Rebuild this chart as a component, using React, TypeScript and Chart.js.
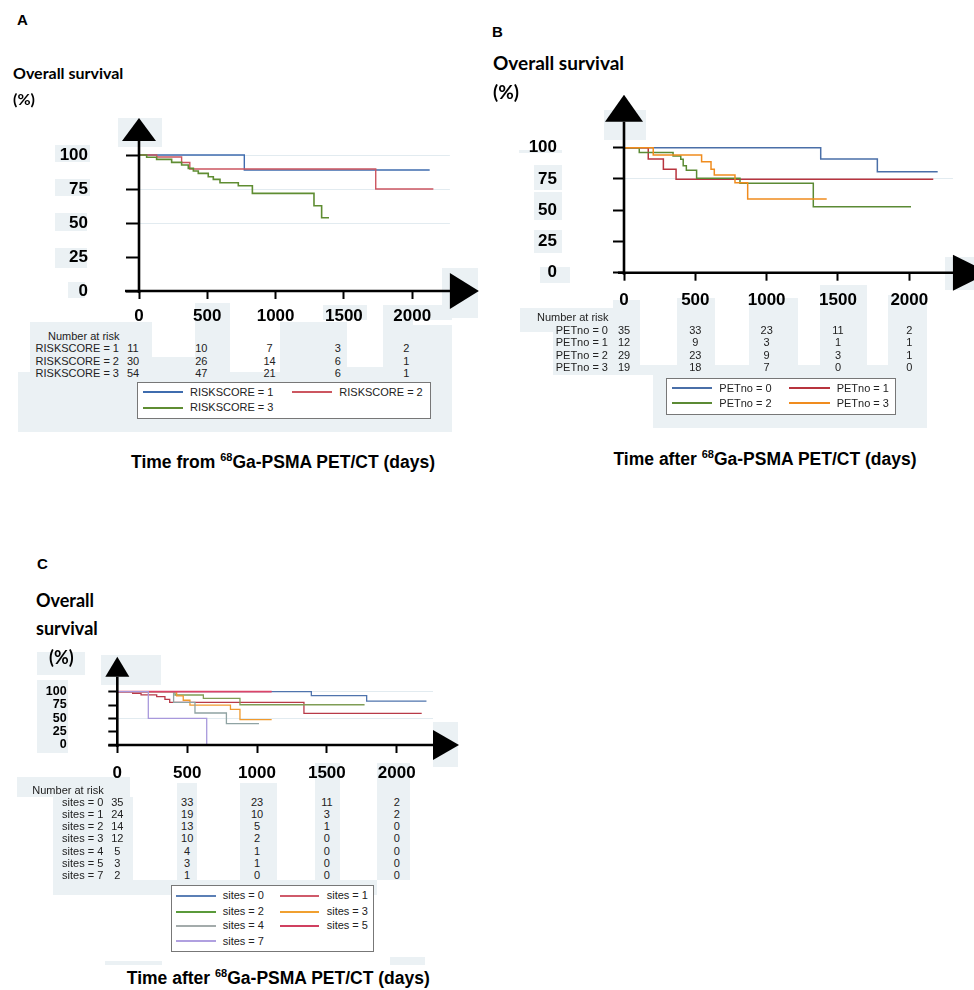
import React, { useEffect, useRef } from "react";
import { Chart, registerables } from "chart.js";

Chart.register(...registerables);

const SANS = '"Liberation Sans", Arial, sans-serif';
const HEAD = 'Lato, "Open Sans", sans-serif';

// ---------- shared ticks ----------
const X_TICKS = [0, 500, 1000, 1500, 2000];
const Y_TICKS = [0, 25, 50, 75, 100];

// ---------- Panel A ----------
const A_GROUPS = ["RISKSCORE = 1", "RISKSCORE = 2", "RISKSCORE = 3"];
const A_COLORS = ["#3f6cae", "#cc5660", "#5f8d32"];
const A_RS1_T = [0, 771, 2128];
const A_RS1_S = [100, 89, 89];
const A_RS2_T = [0, 130, 312, 372, 1733, 2155];
const A_RS2_S = [100, 98.5, 94.5, 89.7, 75, 75];
const A_RS3_T = [0, 56, 129, 239, 312, 361, 398, 434, 507, 544, 593, 727, 830, 1281, 1337, 1391];
const A_RS3_S = [100, 98.3, 96.8, 94.6, 92.6, 90.2, 88.2, 86.5, 84, 82.1, 79.6, 77.4, 71.8, 62.7, 53.9, 53.9];
const A_RISK = [
  [11, 10, 7, 3, 2],
  [30, 26, 14, 6, 1],
  [54, 47, 21, 6, 1],
];

// ---------- Panel B ----------
const B_GROUPS = ["PETno = 0", "PETno = 1", "PETno = 2", "PETno = 3"];
const B_COLORS = ["#4a6fa8", "#b8343e", "#5b8a34", "#f08c1e"];
const B_P0_T = [0, 1379, 1776, 2199];
const B_P0_S = [100, 91, 80.8, 80.8];
const B_P1_T = [0, 170, 276, 365, 2168];
const B_P1_S = [100, 91, 82.7, 74.7, 74.7];
const B_P2_T = [0, 107, 344, 398, 415, 437, 509, 813, 1327, 2012];
const B_P2_S = [100, 96.2, 93.4, 90.7, 85.6, 82, 75.5, 71.5, 52.8, 52.8];
const B_P3_T = [0, 205, 544, 610, 633, 778, 867, 1421];
const B_P3_S = [100, 94.2, 88.8, 82.7, 78.2, 72, 59, 59];
const B_RISK = [
  [35, 33, 23, 11, 2],
  [12, 9, 3, 1, 1],
  [29, 23, 9, 3, 1],
  [19, 18, 7, 0, 0],
];

// ---------- Panel C ----------
const C_GROUPS = ["sites = 0", "sites = 1", "sites = 2", "sites = 3", "sites = 4", "sites = 5", "sites = 7"];
const C_COLORS = ["#4f74ad", "#b83a48", "#7f9d55", "#f09a2e", "#8fa3a3", "#dc4468", "#a899dc"];
const C_LEGEND_COLORS = ["#5b7fb5", "#cf5a6a", "#5a9a3a", "#f0a030", "#a3abab", "#d04060", "#b0a0e0"];
const C_S0_T = [0, 1389, 1785, 2213];
const C_S0_S = [100, 92.5, 82.5, 82.5];
const C_S1_T = [0, 110, 170, 282, 341, 375, 1336, 2179];
const C_S1_S = [100, 97, 94, 90.6, 85.7, 80, 59.4, 59.4];
const C_S2_T = [0, 413, 616, 878, 1770];
const C_S2_S = [100, 93.8, 87.5, 75.5, 75.5];
const C_S3_T = [0, 425, 472, 520, 810, 878, 1105];
const C_S3_S = [100, 92, 84, 75, 66.7, 47.6, 47.6];
const C_S4_T = [0, 403, 556, 781, 1014];
const C_S4_S = [100, 80, 60, 40, 40];
const C_S5_T = [0, 1105];
const C_S5_S = [100, 100];
const C_S7_T = [0, 222, 640];
const C_S7_S = [100, 50, 0];
const C_RISK = [
  [35, 33, 23, 11, 2],
  [24, 19, 10, 3, 2],
  [14, 13, 5, 1, 0],
  [12, 10, 2, 0, 0],
  [5, 4, 1, 0, 0],
  [3, 3, 1, 0, 0],
  [2, 1, 0, 0, 0],
];

type Series = { label: string; t: number[]; s: number[]; color: string; width?: number };

const A_SERIES: Series[] = [
  { label: A_GROUPS[0], t: A_RS1_T, s: A_RS1_S, color: A_COLORS[0] },
  { label: A_GROUPS[1], t: A_RS2_T, s: A_RS2_S, color: A_COLORS[1] },
  { label: A_GROUPS[2], t: A_RS3_T, s: A_RS3_S, color: A_COLORS[2], width: 1.6 },
];
const B_SERIES: Series[] = [
  { label: B_GROUPS[0], t: B_P0_T, s: B_P0_S, color: B_COLORS[0] },
  { label: B_GROUPS[1], t: B_P1_T, s: B_P1_S, color: B_COLORS[1] },
  { label: B_GROUPS[2], t: B_P2_T, s: B_P2_S, color: B_COLORS[2] },
  { label: B_GROUPS[3], t: B_P3_T, s: B_P3_S, color: B_COLORS[3] },
];
const C_SERIES: Series[] = [
  { label: C_GROUPS[0], t: C_S0_T, s: C_S0_S, color: C_COLORS[0] },
  { label: C_GROUPS[1], t: C_S1_T, s: C_S1_S, color: C_COLORS[1] },
  { label: C_GROUPS[2], t: C_S2_T, s: C_S2_S, color: C_COLORS[2] },
  { label: C_GROUPS[3], t: C_S3_T, s: C_S3_S, color: C_COLORS[3] },
  { label: C_GROUPS[4], t: C_S4_T, s: C_S4_S, color: C_COLORS[4] },
  { label: C_GROUPS[5], t: C_S5_T, s: C_S5_S, color: C_COLORS[5], width: 1.8 },
  { label: C_GROUPS[6], t: C_S7_T, s: C_S7_S, color: C_COLORS[6] },
];

// ---------- geometry (layout, not data) ----------
type Geo = {
  cl: number; ct: number; cw: number; ch: number;
  x0: number; xpd: number; xMax: number;
  y0: number; ypp: number;
  yTick: number; yPad: number; yFont: number;
  xTick: number; xPad: number; xFont: number;
  yGap: number; yLen: number; yHw: number;
  xLen: number; xHh: number; yExt: number; xExt: number;
  grid: number[]; lw: number;
};

const A_GEO: Geo = {
  cl: 0, ct: 100, cw: 480, ch: 230,
  x0: 139, xpd: 0.1366, xMax: 2276, y0: 291, ypp: 1.36,
  yTick: 13, yPad: 38, yFont: 17, xTick: 8, xPad: 7, xFont: 17,
  yGap: 14, yLen: 23, yHw: 17, xLen: 29, xHh: 18, yExt: 2, xExt: 14,
  grid: [50, 75, 100], lw: 1.4,
};
const B_GEO: Geo = {
  cl: 480, ct: 80, cw: 494, ch: 240,
  x0: 624, xpd: 0.14265, xMax: 2306, y0: 272.7, ypp: 1.25,
  yTick: 11, yPad: 56, yFont: 17, xTick: 8, xPad: 9, xFont: 17,
  yGap: 26, yLen: 27, yHw: 19, xLen: 36, xHh: 18, yExt: 2, xExt: 6,
  grid: [75], lw: 1.5,
};
const C_GEO: Geo = {
  cl: 0, ct: 640, cw: 480, ch: 150,
  x0: 117.3, xpd: 0.1397, xMax: 2260, y0: 745, ypp: 0.533,
  yTick: 9, yPad: 41.6, yFont: 12.5, xTick: 8, xPad: 10, xFont: 17,
  yGap: 15, yLen: 20, yHw: 12, xLen: 26, xHh: 15, yExt: 2, xExt: 9,
  grid: [50, 100], lw: 1.3,
};

const px = (g: Geo, d: number) => g.x0 + d * g.xpd;

const axesPlugin = {
  id: "kmAxes",
  afterDraw(chart: any, _a: any, o: any) {
    const { ctx, chartArea } = chart;
    const ax = chart.scales.x.getPixelForValue(0);
    const ay = chart.scales.y.getPixelForValue(0);
    const top = chart.scales.y.getPixelForValue(100);
    const right = chartArea.right;
    ctx.save();
    ctx.strokeStyle = "#000";
    ctx.fillStyle = "#000";
    ctx.lineWidth = 2.6;
    const yBase = top - o.yGap;
    ctx.beginPath();
    ctx.moveTo(ax, ay + o.yExt);
    ctx.lineTo(ax, yBase);
    ctx.stroke();
    ctx.beginPath();
    ctx.moveTo(ax - o.yHw, yBase);
    ctx.lineTo(ax + o.yHw, yBase);
    ctx.lineTo(ax, yBase - o.yLen);
    ctx.closePath();
    ctx.fill();
    ctx.beginPath();
    ctx.moveTo(ax - o.xExt, ay);
    ctx.lineTo(right + 1, ay);
    ctx.stroke();
    ctx.beginPath();
    ctx.moveTo(right, ay - o.xHh);
    ctx.lineTo(right, ay + o.xHh);
    ctx.lineTo(right + o.xLen, ay);
    ctx.closePath();
    ctx.fill();
    ctx.restore();
  },
};

function KM({ g, series }: { g: Geo; series: Series[] }) {
  const ref = useRef<HTMLCanvasElement>(null);
  useEffect(() => {
    const c = ref.current;
    if (!c) return;
    const top = g.y0 - 100 * g.ypp;
    const right = g.x0 + g.xMax * g.xpd;
    const padTop = top - g.ct;
    const padRight = g.cl + g.cw - right;
    const yW = g.x0 - g.cl;
    const xH = g.ct + g.ch - g.y0;
    const n = series.length;
    const chart = new Chart(c, {
      type: "line",
      data: {
        datasets: series.map((sr, i) => ({
          label: sr.label,
          data: sr.t.map((t, j) => ({ x: t, y: sr.s[j] })),
          borderColor: sr.color,
          backgroundColor: sr.color,
          borderWidth: sr.width ?? g.lw,
          stepped: "before" as const,
          pointRadius: 0,
          fill: false,
          clip: 8,
          order: n - i,
        })),
      },
      options: {
        animation: false,
        responsive: false,
        devicePixelRatio: 1,
        layout: { padding: { left: 0, top: padTop, right: padRight, bottom: 0 } },
        plugins: {
          legend: { display: false },
          tooltip: { enabled: false },
          kmAxes: g,
        } as any,
        scales: {
          x: {
            type: "linear",
            min: 0,
            max: g.xMax,
            afterBuildTicks: (s: any) => {
              s.ticks = X_TICKS.map((v) => ({ value: v }));
            },
            afterFit: (s: any) => {
              s.height = xH;
              s.paddingLeft = 0;
              s.paddingRight = 0;
              s.paddingTop = 0;
              s.paddingBottom = 0;
            },
            ticks: {
              callback: (v: any) => String(v),
              font: { family: SANS, size: g.xFont, weight: "bold" },
              color: "#000",
              padding: g.xPad,
              maxRotation: 0,
              autoSkip: false,
            },
            grid: {
              drawOnChartArea: false,
              tickLength: g.xTick,
              tickWidth: 2,
              tickColor: "#000",
            },
            border: { display: false },
          },
          y: {
            type: "linear",
            min: 0,
            max: 100,
            afterBuildTicks: (s: any) => {
              s.ticks = Y_TICKS.map((v) => ({ value: v }));
            },
            afterFit: (s: any) => {
              s.width = yW;
              s.paddingTop = 0;
              s.paddingBottom = 0;
              s.paddingLeft = 0;
              s.paddingRight = 0;
            },
            ticks: {
              callback: (v: any) => String(v),
              font: { family: SANS, size: g.yFont, weight: "bold" },
              color: "#000",
              padding: g.yPad,
              autoSkip: false,
            },
            grid: {
              color: (ctx: any) =>
                ctx.tick && g.grid.includes(ctx.tick.value) ? "#e2ebf0" : "rgba(0,0,0,0)",
              lineWidth: 1,
              tickLength: g.yTick,
              tickWidth: 2,
              tickColor: "#000",
            },
            border: { display: false },
          },
        },
      } as any,
      plugins: [axesPlugin as any],
    });
    return () => chart.destroy();
  }, []);
  return (
    <canvas
      ref={ref}
      width={g.cw}
      height={g.ch}
      style={{ position: "absolute", left: g.cl, top: g.ct, width: g.cw, height: g.ch }}
    />
  );
}

function T({
  x, y, s, w = 400, f = SANS, a = "left", c = "#000", children,
}: {
  x: number; y: number; s: number; w?: number; f?: string; a?: string; c?: string; children: any;
}) {
  const tx = a === "left" ? "0" : a === "center" ? "-50%" : "-100%";
  return (
    <div
      style={{
        position: "absolute",
        left: x,
        top: y - s / 2,
        fontSize: s,
        lineHeight: `${s}px`,
        fontFamily: f,
        fontWeight: w,
        color: c,
        whiteSpace: "nowrap",
        transform: `translateX(${tx})`,
      }}
    >
      {children}
    </div>
  );
}

function AxisTitle({ x, y, word }: { x: number; y: number; word: string }) {
  return (
    <div
      style={{
        position: "absolute",
        left: x,
        top: y - 9,
        transform: "translateX(-50%)",
        fontFamily: SANS,
        fontWeight: 700,
        fontSize: 17.5,
        lineHeight: "18px",
        whiteSpace: "nowrap",
        color: "#000",
      }}
    >
      {`Time ${word} `}
      <span style={{ fontSize: 11, position: "relative", top: -7 }}>68</span>
      Ga-PSMA PET/CT (days)
    </div>
  );
}

function RiskTable({
  g, rows, labels, labelRight, titleX, titleY, rowY, off,
}: {
  g: Geo; rows: number[][]; labels: string[]; labelRight: number; titleX: number; titleY: number; rowY: number[]; off: number;
}) {
  return (
    <>
      <T x={titleX} y={titleY} s={11} c="#222">Number at risk</T>
      {labels.map((lb, i) => (
        <React.Fragment key={lb}>
          <T x={labelRight} y={rowY[i]} s={11} a="right" c="#222">{lb}</T>
          {rows[i].map((v, j) => (
            <T key={j} x={px(g, X_TICKS[j]) + off} y={rowY[i]} s={11} a="center" c="#222">{String(v)}</T>
          ))}
        </React.Fragment>
      ))}
    </>
  );
}

function Legend({
  box, rows, cols, items,
}: {
  box: number[]; rows: number[]; cols: number[][]; items: { label: string; color: string; width?: number }[];
}) {
  return (
    <>
      <div
        style={{
          position: "absolute",
          left: box[0],
          top: box[1],
          width: box[2],
          height: box[3],
          border: "1px solid #777",
          background: "#fff",
          boxSizing: "border-box",
        }}
      />
      {items.map((it, i) => {
        const r = Math.floor(i / 2);
        const c = cols[i % 2];
        const lw = it.width ?? 1.6;
        return (
          <React.Fragment key={it.label}>
            <div
              style={{
                position: "absolute",
                left: c[0],
                top: Math.round(rows[r]) - 1,
                width: c[1] - c[0],
                height: lw,
                background: it.color,
              }}
            />
            <T x={c[2]} y={rows[r]} s={11} c="#222">{it.label}</T>
          </React.Fragment>
        );
      })}
    </>
  );
}

const PATCH = "#ebf1f4";
const PATCHES: number[][] = [
  // A
  [55, 145, 35, 17], [55, 179, 35, 17], [55, 213, 32, 18], [55, 248, 32, 20], [68, 282, 17, 16],
  [118, 118, 44, 29], [442, 268, 36, 50], [195, 303, 35, 17], [323, 305, 44, 15], [390, 305, 62, 15],
  [30, 322, 122, 50], [152, 357, 43, 15], [195, 303, 35, 69], [280, 322, 67, 50], [347, 367, 36, 5],
  [383, 305, 30, 67], [413, 325, 39, 47], [18, 372, 434, 60],
  // B
  [519, 150, 43, 3], [534, 165, 28, 25], [534, 192, 28, 28], [534, 230, 28, 23], [540, 267, 30, 16],
  [604, 110, 42, 30], [945, 257, 29, 33],
  [613, 300, 27, 20], [677, 298, 38, 22], [749, 298, 49, 22], [820, 285, 47, 35], [888, 295, 39, 25],
  [520, 308, 120, 24], [553, 332, 87, 43], [677, 300, 38, 75], [749, 300, 49, 75], [820, 300, 47, 75],
  [888, 300, 39, 75], [640, 365, 287, 10], [653, 375, 274, 53],
  // C
  [37, 652, 48, 23], [37, 680, 31, 73], [101, 655, 60, 30], [433, 722, 25, 45],
  [17, 777, 113, 20], [53, 797, 80, 98], [177, 783, 20, 97], [240, 783, 37, 97], [315, 763, 25, 117],
  [377, 763, 33, 117], [53, 880, 324, 15], [105, 961, 57, 4], [390, 957, 35, 8],
];

export default function App() {
  return (
    <div
      style={{
        position: "absolute",
        left: 0,
        top: 0,
        width: 974,
        height: 990,
        overflow: "hidden",
        background: "#fff",
      }}
    >
      {PATCHES.map((p, i) => (
        <div
          key={i}
          style={{ position: "absolute", left: p[0], top: p[1], width: p[2], height: p[3], background: PATCH }}
        />
      ))}

      <KM g={A_GEO} series={A_SERIES} />
      <KM g={B_GEO} series={B_SERIES} />
      <KM g={C_GEO} series={C_SERIES} />

      {/* Panel A */}
      <T x={17} y={19} s={15} w={700}>A</T>
      <T x={13} y={73} s={16} w={700} f={HEAD}>Overall survival</T>
      <T x={13} y={98.5} s={16} w={700} f={HEAD}>(%)</T>
      <RiskTable
        g={A_GEO}
        rows={A_RISK}
        labels={A_GROUPS}
        labelRight={119}
        titleX={48}
        titleY={336}
        rowY={[348, 361, 373]}
        off={-6}
      />
      <Legend
        box={[137, 382, 294, 37]}
        rows={[392.3, 407.7]}
        cols={[[142.7, 182.7, 190], [291.7, 331.7, 339.3]]}
        items={A_SERIES.map((s) => ({ label: s.label, color: s.color }))}
      />
      <AxisTitle x={283} y={462} word="from" />

      {/* Panel B */}
      <T x={492} y={31} s={15} w={700}>B</T>
      <T x={493} y={62} s={19} w={700} f={HEAD}>Overall survival</T>
      <T x={493} y={91.5} s={19} w={700} f={HEAD}>(%)</T>
      <RiskTable
        g={B_GEO}
        rows={B_RISK}
        labels={B_GROUPS}
        labelRight={608}
        titleX={537}
        titleY={317.5}
        rowY={[330.7, 342.7, 355, 367.7]}
        off={0}
      />
      <Legend
        box={[666, 378, 230, 37]}
        rows={[388.3, 403.3]}
        cols={[[671.7, 711.7, 719.3], [789.3, 830, 836.7]]}
        items={B_SERIES.map((s) => ({ label: s.label, color: s.color }))}
      />
      <AxisTitle x={765} y={458.5} word="after" />

      {/* Panel C */}
      <T x={37} y={563} s={15} w={700}>C</T>
      <T x={36} y={599.5} s={18} w={700} f={HEAD}>Overall</T>
      <T x={36} y={627.5} s={18} w={700} f={HEAD}>survival</T>
      <T x={49} y={657} s={18} w={700} f={HEAD}>(%)</T>
      <RiskTable
        g={C_GEO}
        rows={C_RISK}
        labels={C_GROUPS}
        labelRight={103.3}
        titleX={32.3}
        titleY={790}
        rowY={[802.3, 814.3, 826.7, 838.7, 851, 863.3, 875.7]}
        off={0}
      />
      <Legend
        box={[171, 885, 203, 67]}
        rows={[895.7, 911.7, 925.7, 941]}
        cols={[[176, 216, 222.7], [280, 319.3, 326.7]]}
        items={C_SERIES.map((s, i) => ({
          label: s.label,
          color: C_LEGEND_COLORS[i],
          width: i === 5 ? 2.4 : 1.6,
        }))}
      />
      <AxisTitle x={278.3} y={978.3} word="after" />
    </div>
  );
}
